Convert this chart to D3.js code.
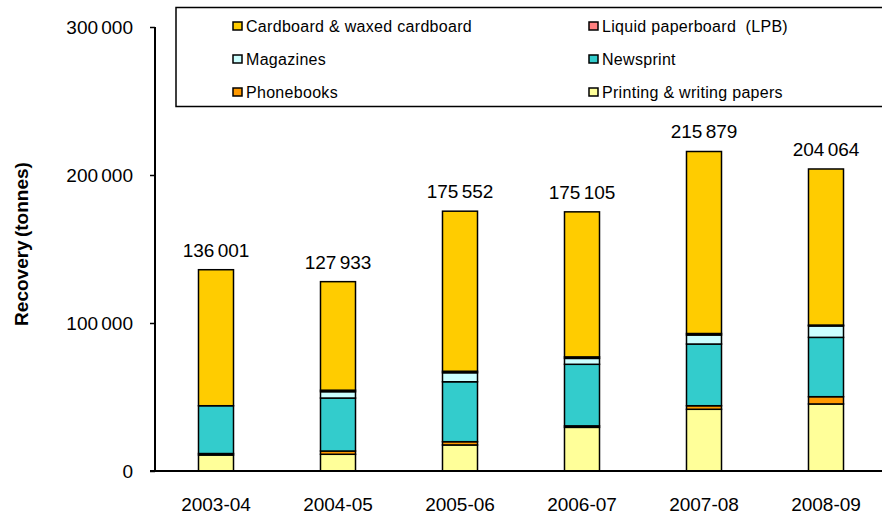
<!DOCTYPE html>
<html>
<head>
<meta charset="utf-8">
<script src="https://cdn.jsdelivr.net/npm/d3@7"></script>
<style>
  html, body { margin: 0; padding: 0; background: #fff; }
  svg { display: block; font-family: "Liberation Sans", Arial, sans-serif; }
</style>
</head>
<body>
<svg id="chart" width="882" height="517"></svg>
<script>
// ---- Data ----
const categories = ["2003-04", "2004-05", "2005-06", "2006-07", "2007-08", "2008-09"];
const seriesNames = ["Printing & writing papers", "Phonebooks", "Newsprint", "Magazines", "Liquid paperboard  (LPB)", "Cardboard & waxed cardboard"];
const printing   = [10800, 11300, 17600, 29500, 41700, 45300];
const phonebooks = [1000, 2200, 2200, 1000, 2400, 4900];
const newsprint  = [32300, 35800, 40500, 41600, 41700, 40100];
const magazines  = [0, 4300, 6100, 4000, 6100, 7700];
const lpb        = [0, 1000, 1000, 1000, 1000, 600];
const cardboard  = [91901, 73333, 108152, 98005, 122979, 105464];
const totals     = [136001, 127933, 175552, 175105, 215879, 204064];
const yTicks     = [0, 100000, 200000, 300000];
const legendOrder = ["Cardboard & waxed cardboard", "Liquid paperboard  (LPB)", "Magazines", "Newsprint", "Phonebooks", "Printing & writing papers"];

const colors = {
  "Printing & writing papers": "#FFFF99",
  "Phonebooks": "#FF9900",
  "Newsprint": "#33CCCC",
  "Magazines": "#CCFFFF",
  "Liquid paperboard  (LPB)": "#FF8080",
  "Cardboard & waxed cardboard": "#FFCC00"
};

const seriesValues = [printing, phonebooks, newsprint, magazines, lpb, cardboard];
const table = categories.map((c, i) => {
  const row = { cat: c };
  seriesNames.forEach((s, j) => row[s] = seriesValues[j][i]);
  return row;
});

const svg = d3.select("#chart");
const fmt = d3.formatLocale({ decimal: ".", thousands: " ", grouping: [3], currency: ["", ""] }).format(",d");

const x = d3.scaleBand().domain(categories).range([155, 887]).paddingInner(0.713).paddingOuter(0.3565);
const y = d3.scaleLinear().domain([0, 300000]).range([471, 27]);

const stack = d3.stack().keys(seriesNames)(table);

// Bars
svg.append("g").selectAll("g").data(stack).join("g")
  .attr("fill", d => colors[d.key])
  .selectAll("rect").data(d => d).join("rect")
  .attr("x", d => x(d.data.cat))
  .attr("width", x.bandwidth())
  .attr("y", d => y(d[1]))
  .attr("height", d => y(d[0]) - y(d[1]))
  .attr("stroke", "#000")
  .attr("stroke-width", 1.5);

// Y axis
const yAxis = svg.append("g").attr("transform", "translate(155,0)")
  .call(d3.axisLeft(y).tickValues(yTicks).tickSize(5).tickPadding(17).tickFormat(fmt));
yAxis.select(".domain").attr("stroke", "#000").attr("stroke-width", 2).attr("d", "M0,27V471");
yAxis.selectAll(".tick line").attr("stroke", "#000").attr("stroke-width", 1.5);
yAxis.selectAll(".tick text").attr("font-size", 19).attr("fill", "#000")
  .attr("font-family", "Liberation Sans, Arial, sans-serif").attr("word-spacing", "-2px");

// X axis
const xAxis = svg.append("g").attr("transform", "translate(0,471)")
  .call(d3.axisBottom(x).tickSize(0).tickPadding(27));
xAxis.select(".domain").attr("stroke", "#000").attr("stroke-width", 2).attr("d", "M150,0H882");
xAxis.selectAll(".tick text").attr("font-size", 19).attr("fill", "#000")
  .attr("font-family", "Liberation Sans, Arial, sans-serif");

// Total labels
svg.append("g").selectAll("text").data(categories).join("text")
  .attr("x", d => x(d) + x.bandwidth() / 2)
  .attr("y", (d, i) => y(totals[i]) - 13)
  .attr("text-anchor", "middle")
  .attr("font-size", 19)
  .attr("word-spacing", "-2px")
  .attr("fill", "#000")
  .text((d, i) => fmt(totals[i]));

// Y title
svg.append("text")
  .attr("transform", "translate(28,244) rotate(-90)")
  .attr("text-anchor", "middle")
  .attr("font-size", 19)
  .attr("font-weight", "bold")
  .attr("word-spacing", "-2px")
  .attr("fill", "#000")
  .text("Recovery (tonnes)");

// Legend
const legend = svg.append("g");
legend.append("rect").attr("x", 176).attr("y", 7.5).attr("width", 720).attr("height", 99)
  .attr("fill", "#fff").attr("stroke", "#000").attr("stroke-width", 1.5);
const colX = [233, 589];
const rowY = [32, 65, 98];
legendOrder.forEach((name, i) => {
  const cx = colX[i % 2], ry = rowY[Math.floor(i / 2)];
  legend.append("rect").attr("x", cx).attr("y", ry - 10).attr("width", 9).attr("height", 8)
    .attr("fill", colors[name]).attr("stroke", "#000").attr("stroke-width", 1.5);
  legend.append("text").attr("x", cx + 13).attr("y", ry).attr("font-size", 16).attr("fill", "#000")
    .attr("letter-spacing", "0.3px")
    .attr("xml:space", "preserve").style("white-space", "pre")
    .text(name);
});
</script>
</body>
</html>
